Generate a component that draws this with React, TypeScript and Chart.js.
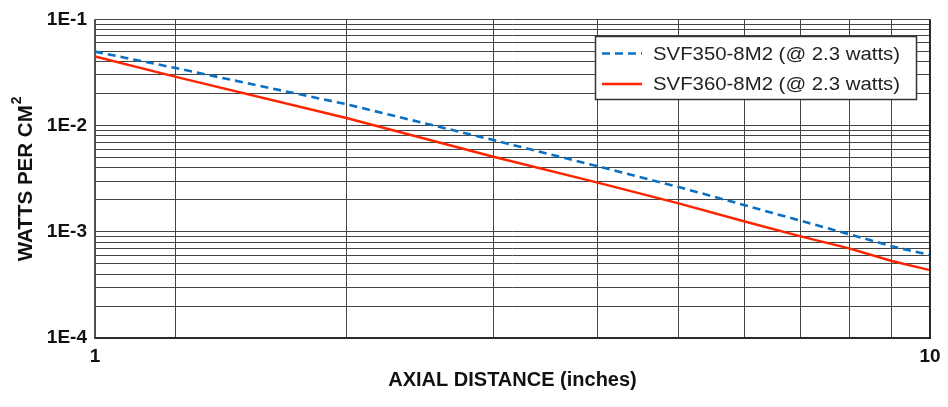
import React, { useEffect, useRef } from 'react';
import { Chart, registerables } from 'chart.js';

Chart.register(...registerables);

// ---- data ----
const distances = [1, 1.25, 2, 3, 4, 5, 6, 7, 8, 9, 10];
const svf350 = [0.0497, 0.0348, 0.0159, 0.00731, 0.00414, 0.00264, 0.00178, 0.00127, 0.00095, 0.00073, 0.000604];
const svf360 = [0.0447, 0.0288, 0.0118, 0.00509, 0.0029, 0.00185, 0.00125, 0.000906, 0.000697, 0.000531, 0.000435];
const seriesLabels = ['SVF350-8M2 (@ 2.3 watts)', 'SVF360-8M2 (@ 2.3 watts)'];

const xTickValues = [1, 1.25, 2, 3, 4, 5, 6, 7, 8, 9, 10];
const xLabelValues = [1, 10];
const xLabels = ['1', '10'];

const yTickValues = [
  0.0001, 0.0002, 0.0003, 0.0004, 0.0005, 0.0006, 0.0007, 0.0008, 0.0009,
  0.001, 0.002, 0.003, 0.004, 0.005, 0.006, 0.007, 0.008, 0.009,
  0.01, 0.02, 0.03, 0.04, 0.05, 0.06, 0.07, 0.08, 0.09,
  0.1,
];
const yLabelValues = [0.0001, 0.001, 0.01, 0.1];
const yLabels = ['1E-4', '1E-3', '1E-2', '1E-1'];

const xTitle = 'AXIAL DISTANCE (inches)';
const yTitleMain = 'WATTS PER CM';
const yTitleSup = '2';

const FONT = "'Liberation Sans', Arial, sans-serif";
const BLUE = '#0a70c4';
const RED = '#ff2400';

function labelFor(value: number, vals: number[], labels: string[]) {
  for (let i = 0; i < vals.length; i++) {
    if (Math.abs(Math.log10(value) - Math.log10(vals[i])) < 1e-6) return labels[i];
  }
  return '';
}

const framePlugin = {
  id: 'frame',
  afterDatasetsDraw(chart: any) {
    const { ctx, chartArea: a } = chart;
    ctx.save();
    ctx.strokeStyle = '#2a2a2a';
    ctx.lineWidth = 2;
    ctx.beginPath();
    ctx.moveTo(a.right, a.top);
    ctx.lineTo(a.right, a.bottom);
    ctx.stroke();
    ctx.beginPath();
    ctx.moveTo(a.left, a.bottom);
    ctx.lineTo(a.right, a.bottom);
    ctx.stroke();
    ctx.restore();
  },
};

const yTitlePlugin = {
  id: 'yTitle',
  afterDraw(chart: any) {
    const { ctx, chartArea: a } = chart;
    ctx.save();
    ctx.fillStyle = '#111111';
    ctx.font = `bold 20px ${FONT}`;
    ctx.textBaseline = 'alphabetic';
    ctx.textAlign = 'left';
    const w = ctx.measureText(yTitleMain).width;
    const target = 156;
    const sx = target / w;
    const centerY = (a.top + a.bottom) / 2;
    const supW = 9;
    const startY = centerY + (target + supW) / 2;
    ctx.translate(31.5, startY);
    ctx.rotate(-Math.PI / 2);
    ctx.save();
    ctx.scale(sx, 1);
    ctx.fillText(yTitleMain, 0, 0);
    ctx.restore();
    ctx.font = `bold 14px ${FONT}`;
    ctx.fillText(yTitleSup, target + 1, -11);
    ctx.restore();
  },
};

const legendPlugin = {
  id: 'boxLegend',
  afterDraw(chart: any) {
    const ctx = chart.ctx;
    ctx.save();
    ctx.fillStyle = '#ffffff';
    ctx.fillRect(595.5, 36.5, 321, 63);
    ctx.strokeStyle = '#333333';
    ctx.lineWidth = 1.5;
    ctx.strokeRect(595.5, 36.5, 321, 63);

    const rows = [
      { y: 53.5, color: BLUE, dash: [8, 5], width: 2.6, base: 59.5 },
      { y: 84, color: RED, dash: [], width: 2.4, base: 90 },
    ];
    ctx.font = `19px ${FONT}`;
    ctx.textBaseline = 'alphabetic';
    ctx.textAlign = 'left';
    rows.forEach((r, i) => {
      ctx.strokeStyle = r.color;
      ctx.lineWidth = r.width;
      ctx.setLineDash(r.dash);
      ctx.beginPath();
      ctx.moveTo(602, r.y);
      ctx.lineTo(642, r.y);
      ctx.stroke();
      ctx.setLineDash([]);
      const text = seriesLabels[i];
      const w = ctx.measureText(text).width;
      const target = 247;
      ctx.save();
      ctx.translate(653, r.base);
      ctx.scale(target / w, 1);
      ctx.fillStyle = '#222222';
      ctx.fillText(text, 0, 0);
      ctx.restore();
    });
    ctx.restore();
  },
};

export default function App() {
  const ref = useRef<HTMLCanvasElement | null>(null);

  useEffect(() => {
    document.body.style.margin = '0';
    const canvas = ref.current;
    if (!canvas) return;
    const chart = new Chart(canvas, {
      type: 'line',
      data: {
        datasets: [
          {
            label: seriesLabels[0],
            data: distances.map((d, i) => ({ x: d, y: svf350[i] })),
            borderColor: BLUE,
            borderWidth: 2.6,
            borderDash: [8, 5],
            pointRadius: 0,
            tension: 0,
            fill: false,
          },
          {
            label: seriesLabels[1],
            data: distances.map((d, i) => ({ x: d, y: svf360[i] })),
            borderColor: RED,
            borderWidth: 2.4,
            pointRadius: 0,
            tension: 0,
            fill: false,
          },
        ],
      },
      options: {
        responsive: false,
        animation: false,
        devicePixelRatio: 1,
        layout: { autoPadding: false, padding: { top: 15, right: 18, left: 0, bottom: 0 } },
        plugins: {
          legend: { display: false },
          tooltip: { enabled: false },
        },
        scales: {
          x: {
            type: 'logarithmic',
            min: 1,
            max: 10,
            afterBuildTicks: (scale: any) => {
              scale.ticks = xTickValues.map((v) => ({ value: v }));
            },
            afterFit: (scale: any) => {
              scale.height = 69;
            },
            ticks: {
              autoSkip: false,
              maxRotation: 0,
              padding: 7,
              color: '#111111',
              font: { family: FONT, size: 19, weight: 'bold' },
              callback: (v: any) => labelFor(Number(v), xLabelValues, xLabels),
            },
            grid: { color: '#444444', lineWidth: 1, drawTicks: false },
            border: { color: '#222222', width: 2 },
            title: {
              display: true,
              text: xTitle,
              color: '#111111',
              font: { family: FONT, size: 20, weight: 'bold' },
              padding: { top: 0, bottom: 15 },
            },
          },
          y: {
            type: 'logarithmic',
            min: 0.0001,
            max: 0.1,
            afterBuildTicks: (scale: any) => {
              scale.ticks = yTickValues.map((v) => ({ value: v }));
            },
            afterFit: (scale: any) => {
              scale.width = 95;
            },
            ticks: {
              autoSkip: false,
              padding: 8,
              color: '#111111',
              font: { family: FONT, size: 19, weight: 'bold' },
              callback: (v: any) => labelFor(Number(v), yLabelValues, yLabels),
            },
            grid: { color: '#444444', lineWidth: 1, drawTicks: false },
            border: { color: '#555555', width: 1.5 },
            title: { display: false },
          },
        },
      } as any,
      plugins: [framePlugin, legendPlugin, yTitlePlugin],
    });
    return () => chart.destroy();
  }, []);

  return (
    <div style={{ width: 948, height: 407 }}>
      <canvas ref={ref} width={948} height={407} style={{ display: 'block' }} />
    </div>
  );
}
